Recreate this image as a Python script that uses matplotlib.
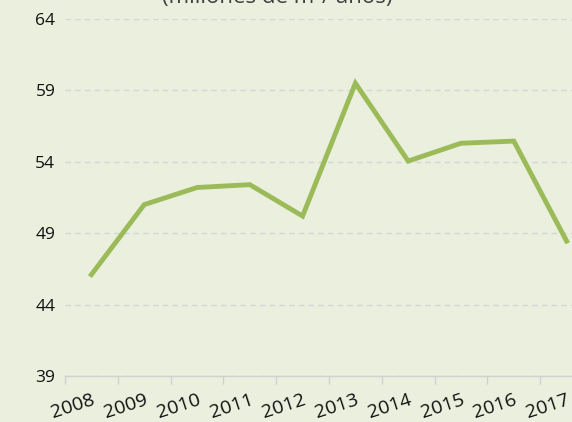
import matplotlib.pyplot as plt
import numpy as np

plt.rcParams['font.family'] = ['Open Sans', 'DejaVu Sans']

# ===================== 数据 =====================
years = ['2008', '2009', '2010', '2011', '2012', '2013', '2014', '2015', '2016', '2017']
values = [46.1, 51.0, 52.2, 52.4, 50.2, 59.5, 54.05, 55.3, 55.45, 48.45]
y_ticks = [39, 44, 49, 54, 59, 64]

bg = '#EBEFDE'
line_c = '#9BBB59'

fig = plt.figure(figsize=(5.72, 4.22), dpi=100, facecolor=bg)
ax = fig.add_axes([65 / 572, 46 / 422, 528 / 572, 357 / 422])
ax.set_facecolor(bg)

x = np.arange(len(years))
ax.plot(x, values, color=line_c, lw=3.5, solid_joinstyle='miter', zorder=3)

ax.set_xlim(-0.5, len(years) - 0.5)
ax.set_ylim(39, 64)
ax.set_yticks(y_ticks)
ax.yaxis.grid(True, ls=(0, (4, 3)), color='#D3D6D8', lw=1)
ax.tick_params(axis='y', length=0, labelsize=12.5, pad=7, labelcolor='#111111')

# 刻度线放在类别之间，标签放在类别中心
ax.set_xticks(np.arange(-0.5, len(years), 1))
ax.set_xticklabels([])
ax.tick_params(axis='x', which='major', length=6, color='#D0D0D0', width=1)
ax.set_xticks(x, minor=True)
ax.set_xticklabels(years, minor=True, rotation=18, ha='right',
                   rotation_mode='anchor', fontsize=14, color='#111111')
ax.tick_params(axis='x', which='minor', length=0, pad=11)

for s in ['top', 'right', 'left']:
    ax.spines[s].set_visible(False)
ax.spines['bottom'].set_color('#D0D0D0')
ax.spines['bottom'].set_linewidth(1)

fig.text(277 / 572, 1 + 3 / 422, '(millones de m³/ años)', ha='center', va='center',
         fontsize=16, color='#404040')

plt.savefig('out.png', dpi=100, facecolor=bg)
